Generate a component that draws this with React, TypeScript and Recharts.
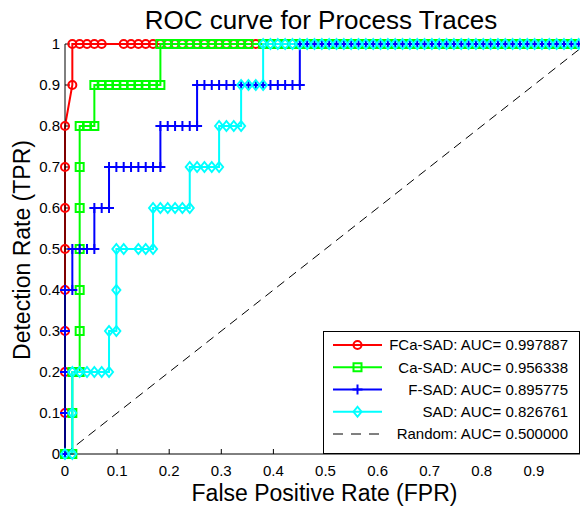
import React from 'react';
import { LineChart, Line, XAxis, YAxis } from 'recharts';

// Number of negative samples: the FPR axis moves in steps of 1/71.
const NEGATIVE_COUNT = 71;

const tickValues = [0, 0.1, 0.2, 0.3, 0.4, 0.5, 0.6, 0.7, 0.8, 0.9, 1];
const tickLabels = ['0', '0.1', '0.2', '0.3', '0.4', '0.5', '0.6', '0.7', '0.8', '0.9', '1'];

const chartTitle = 'ROC curve for Process Traces';
const xTitle = 'False Positive Rate (FPR)';
const yTitle = 'Detection Rate (TPR)';

const seriesLabels = [
  'FCa-SAD: AUC= 0.997887',
  'Ca-SAD: AUC= 0.956338',
  'F-SAD: AUC= 0.895775',
  'SAD: AUC= 0.826761',
  'Random: AUC= 0.500000',
];

type Pt = [number, number]; // [false positives (count), TPR]

const fcaSadPoints: Pt[] = [
  [0, 0], [0, 0.1], [0, 0.2], [0, 0.3], [0, 0.4], [0, 0.5], [0, 0.6], [0, 0.7], [0, 0.8],
  [1, 0.9], [1, 1], [2, 1], [3, 1], [4, 1], [5, 1], [8, 1], [9, 1], [10, 1], [11, 1], [12, 1],
  [13, 1], [14, 1], [15, 1], [16, 1], [17, 1], [18, 1], [19, 1], [20, 1], [21, 1], [22, 1],
  [23, 1], [24, 1], [25, 1], [26, 1], [27, 1], [28, 1], [29, 1], [30, 1], [31, 1], [32, 1],
  [33, 1], [34, 1], [35, 1], [36, 1], [37, 1], [38, 1], [39, 1], [40, 1], [41, 1], [42, 1],
  [43, 1], [44, 1], [45, 1], [46, 1], [47, 1], [48, 1], [49, 1], [50, 1], [51, 1], [52, 1],
  [53, 1], [54, 1], [55, 1], [56, 1], [57, 1], [58, 1], [59, 1], [60, 1], [61, 1], [62, 1],
  [63, 1], [64, 1], [65, 1], [66, 1], [67, 1], [68, 1], [69, 1], [70, 1], [71, 1],
];

const caSadPoints: Pt[] = [
  [0, 0], [1, 0], [1, 0.1], [1, 0.2], [2, 0.2], [2, 0.3], [2, 0.4], [2, 0.5], [2, 0.6], [2, 0.7],
  [2, 0.8], [3, 0.8], [4, 0.8], [4, 0.9], [5, 0.9], [6, 0.9], [7, 0.9], [8, 0.9], [9, 0.9],
  [10, 0.9], [11, 0.9], [12, 0.9], [13, 0.9], [13, 1], [14, 1], [15, 1], [16, 1], [17, 1],
  [18, 1], [19, 1], [20, 1], [21, 1], [22, 1], [23, 1], [24, 1], [25, 1], [27, 1], [28, 1],
  [29, 1], [30, 1], [31, 1], [32, 1], [33, 1], [34, 1], [35, 1], [36, 1], [37, 1], [38, 1],
  [39, 1], [40, 1], [41, 1], [42, 1], [43, 1], [44, 1], [45, 1], [46, 1], [47, 1], [48, 1],
  [49, 1], [50, 1], [51, 1], [52, 1], [53, 1], [54, 1], [55, 1], [56, 1], [57, 1], [58, 1],
  [59, 1], [60, 1], [61, 1], [62, 1], [63, 1], [64, 1], [65, 1], [66, 1], [67, 1], [68, 1],
  [69, 1], [70, 1], [71, 1],
];

const fSadPoints: Pt[] = [
  [0, 0], [0, 0.1], [0, 0.2], [0, 0.3], [0, 0.4], [1, 0.4], [1, 0.5], [2, 0.5], [3, 0.5],
  [4, 0.5], [4, 0.6], [5, 0.6], [6, 0.6], [6, 0.7], [7, 0.7], [8, 0.7], [9, 0.7], [10, 0.7],
  [11, 0.7], [12, 0.7], [13, 0.7], [13, 0.8], [14, 0.8], [15, 0.8], [16, 0.8], [17, 0.8],
  [18, 0.8], [18, 0.9], [19, 0.9], [20, 0.9], [21, 0.9], [22, 0.9], [23, 0.9], [24, 0.9],
  [25, 0.9], [26, 0.9], [27, 0.9], [28, 0.9], [29, 0.9], [30, 0.9], [31, 0.9], [32, 0.9],
  [32, 1], [33, 1], [34, 1], [35, 1], [36, 1], [37, 1], [38, 1], [39, 1], [40, 1], [41, 1],
  [42, 1], [43, 1], [44, 1], [45, 1], [46, 1], [47, 1], [48, 1], [49, 1], [50, 1], [51, 1],
  [52, 1], [53, 1], [54, 1], [55, 1], [56, 1], [57, 1], [58, 1], [59, 1], [60, 1], [61, 1],
  [62, 1], [63, 1], [64, 1], [65, 1], [66, 1], [67, 1], [68, 1], [69, 1], [70, 1], [71, 1],
];

const sadPoints: Pt[] = [
  [0, 0], [1, 0], [1, 0.1], [1, 0.2], [2, 0.2], [3, 0.2], [4, 0.2], [5, 0.2], [6, 0.2],
  [6, 0.3], [7, 0.3], [7, 0.4], [7, 0.5], [8, 0.5], [10, 0.5], [11, 0.5], [12, 0.5],
  [12, 0.6], [13, 0.6], [14, 0.6], [15, 0.6], [16, 0.6], [17, 0.6], [17, 0.7], [18, 0.7],
  [19, 0.7], [20, 0.7], [21, 0.7], [21, 0.8], [22, 0.8], [23, 0.8], [24, 0.8], [24, 0.9],
  [25, 0.9], [26, 0.9], [27, 0.9], [27, 1], [28, 1], [29, 1], [30, 1], [31, 1], [32, 1],
  [33, 1], [34, 1], [35, 1], [36, 1], [37, 1], [38, 1], [39, 1], [40, 1], [41, 1], [42, 1],
  [43, 1], [44, 1], [45, 1], [46, 1], [47, 1], [48, 1], [49, 1], [50, 1], [51, 1], [52, 1],
  [53, 1], [54, 1], [55, 1], [56, 1], [57, 1], [58, 1], [59, 1], [60, 1], [61, 1], [62, 1],
  [63, 1], [64, 1], [65, 1], [66, 1], [67, 1], [68, 1], [69, 1], [70, 1], [71, 1],
];

const randomPoints: Pt[] = [[0, 0], [71, 1]];

const toData = (pts: Pt[]) => pts.map(([fp, tpr]) => ({ x: fp / NEGATIVE_COUNT, y: tpr }));

const FONT = '"Liberation Sans", Arial, Helvetica, sans-serif';
const RED = '#ff0000';
const GREEN = '#00ff00';
const BLUE = '#0000ff';
const CYAN = '#00ffff';

const W = 580;
const H = 502;

type MarkerKind = 'circle' | 'square' | 'plus' | 'diamond';

function marker(kind: MarkerKind, color: string, cx: number, cy: number, key?: string | number) {
  if (cx == null || cy == null || isNaN(cx) || isNaN(cy)) return <g key={key} />;
  switch (kind) {
    case 'circle':
      return <circle key={key} cx={cx} cy={cy} r={4} fill="none" stroke={color} strokeWidth={2} />;
    case 'square':
      return <rect key={key} x={cx - 4} y={cy - 4} width={8} height={8} fill="none" stroke={color} strokeWidth={2} />;
    case 'plus':
      return (
        <g key={key}>
          <line x1={cx - 5} y1={cy} x2={cx + 5} y2={cy} stroke={color} strokeWidth={2} />
          <line x1={cx} y1={cy - 5} x2={cx} y2={cy + 5} stroke={color} strokeWidth={2} />
        </g>
      );
    case 'diamond':
    default:
      return (
        <polygon
          key={key}
          points={`${cx},${cy - 5} ${cx + 4},${cy} ${cx},${cy + 5} ${cx - 4},${cy}`}
          fill="none"
          stroke={color}
          strokeWidth={2}
        />
      );
  }
}

const dotFor = (kind: MarkerKind, color: string) => (p: any) => marker(kind, color, p.cx, p.cy, `${kind}-${p.index}`);

const fmt = (v: number) => {
  const i = tickValues.indexOf(v);
  return i >= 0 ? tickLabels[i] : String(v);
};

const tickStyle = { fontSize: 15, fill: '#000', fontFamily: FONT };

const series = [
  { data: toData(fcaSadPoints), color: RED, kind: 'circle' as MarkerKind },
  { data: toData(caSadPoints), color: GREEN, kind: 'square' as MarkerKind },
  { data: toData(fSadPoints), color: BLUE, kind: 'plus' as MarkerKind },
  { data: toData(sadPoints), color: CYAN, kind: 'diamond' as MarkerKind },
];

export default function App() {
  const legendLeft = 315;
  const legendTop = 323;
  const legendW = 256;
  const legendH = 122;
  return (
    <div style={{ position: 'relative', width: W, height: H, fontFamily: FONT, background: '#fff' }}>
      <LineChart width={W} height={H} margin={{ top: 36, right: 2, bottom: 0, left: 0 }}>
        {series.map((s, i) => (
          <Line
            key={i}
            xAxisId="b"
            yAxisId="l"
            data={s.data}
            dataKey="y"
            type="linear"
            stroke={s.color}
            strokeWidth={2}
            dot={dotFor(s.kind, s.color)}
            activeDot={false}
            isAnimationActive={false}
          />
        ))}
        <Line
          xAxisId="b"
          yAxisId="l"
          data={toData(randomPoints)}
          dataKey="y"
          type="linear"
          stroke="#000"
          strokeWidth={1}
          strokeDasharray="9 6"
          dot={false}
          activeDot={false}
          isAnimationActive={false}
        />
        <XAxis
          xAxisId="b"
          type="number"
          dataKey="x"
          domain={[0, 1]}
          ticks={tickValues}
          interval={0}
          tickFormatter={fmt}
          height={56}
          tickSize={-5}
          tickMargin={16}
          tick={tickStyle}
          axisLine={{ stroke: '#000' }}
          tickLine={{ stroke: '#000' }}
        />
        <YAxis
          yAxisId="l"
          type="number"
          dataKey="y"
          domain={[0, 1]}
          ticks={tickValues}
          interval={0}
          tickFormatter={fmt}
          width={57}
          tickSize={-5}
          tickMargin={10}
          tick={tickStyle}
          axisLine={{ stroke: '#000' }}
          tickLine={{ stroke: '#000' }}
        />
        <XAxis
          xAxisId="t"
          orientation="top"
          type="number"
          dataKey="x"
          domain={[0, 1]}
          ticks={tickValues}
          interval={0}
          tickFormatter={() => ''}
          height={0}
          tickSize={-5}
          axisLine={{ stroke: '#000' }}
          tickLine={{ stroke: '#000' }}
        />
        <YAxis
          yAxisId="r"
          orientation="right"
          type="number"
          dataKey="y"
          domain={[0, 1]}
          ticks={tickValues}
          interval={0}
          tickFormatter={() => ''}
          width={0}
          tickSize={-5}
          axisLine={{ stroke: '#000' }}
          tickLine={{ stroke: '#000' }}
        />
      </LineChart>
      <svg
        width={W}
        height={H}
        style={{ position: 'absolute', left: 0, top: 0, pointerEvents: 'none' }}
      >
        <text x={313} y={21} textAnchor="middle" fontSize={26} fontFamily={FONT} fill="#000">
          {chartTitle}
        </text>
        <text x={316.5} y={493} textAnchor="middle" fontSize={23} fontFamily={FONT} fill="#000">
          {xTitle}
        </text>
        <text
          transform="translate(22,242) rotate(-90)"
          x={0}
          y={0}
          textAnchor="middle"
          fontSize={23}
          fontFamily={FONT}
          fill="#000"
        >
          {yTitle}
        </text>
        <rect x={legendLeft + 0.5} y={legendTop + 0.5} width={legendW} height={legendH} fill="#fff" stroke="#000" strokeWidth={1} />
        {seriesLabels.map((label, i) => {
          const cy = legendTop + 14 + i * 22.25;
          const x1 = legendLeft + 10;
          const x2 = legendLeft + 59;
          const mx = (x1 + x2) / 2;
          const s = series[i];
          return (
            <g key={label}>
              {s ? (
                <>
                  <line x1={x1} y1={cy} x2={x2} y2={cy} stroke={s.color} strokeWidth={2} />
                  {marker(s.kind, s.color, mx, cy)}
                </>
              ) : (
                <line x1={x1} y1={cy} x2={x2} y2={cy} stroke="#000" strokeWidth={1} strokeDasharray="10 8" />
              )}
              <text x={legendLeft + 245} y={cy + 5.4} textAnchor="end" fontSize={15} fontFamily={FONT} fill="#000">
                {label}
              </text>
            </g>
          );
        })}
      </svg>
    </div>
  );
}
